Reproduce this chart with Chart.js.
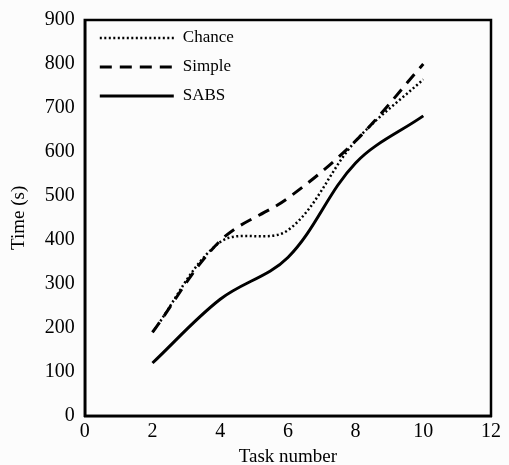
<!DOCTYPE html>
<html>
<head>
<meta charset="utf-8">
<script src="https://cdn.jsdelivr.net/npm/chart.js@4/dist/chart.umd.min.js"></script>
<style>
  body { margin: 0; background: #fcfcfc; }
  #wrap { width: 509px; height: 465px; }
</style>
</head>
<body>
<div id="wrap"><canvas id="myChart"></canvas></div>
<script>
// Task numbers on x axis
let tasks = [2, 4, 6, 8, 10]
// Time (s) per method
let chance = [190, 395, 422, 625, 765]
let simple = [190, 398, 495, 625, 800]
let sabs = [120, 265, 360, 575, 682]

let xTicks = [0, 2, 4, 6, 8, 10, 12]
let yTicks = [0, 100, 200, 300, 400, 500, 600, 700, 800, 900]

const serif = "'Liberation Serif', 'Times New Roman', serif"

function toPoints(vals) {
  return tasks.map((t, i) => ({x: t, y: vals[i]}))
}

// box round the plot + legend inside it
const framePlugin = {
  id: 'frame',
  afterDraw(chart) {
    const c = chart.ctx
    const a = chart.chartArea
    c.save()
    c.strokeStyle = '#000'
    c.lineWidth = 2.5
    c.strokeRect(a.left, a.top, a.right - a.left, a.bottom - a.top)

    // legend
    c.font = '17px ' + serif
    c.textBaseline = 'middle'
    c.fillStyle = '#000'
    chart.data.datasets.forEach((ds, i) => {
      let y = a.top + 18 + i * 29
      c.beginPath()
      c.setLineDash(ds.borderDash || [])
      c.lineWidth = ds.borderWidth
      c.strokeStyle = '#000'
      c.moveTo(a.left + 15, y)
      c.lineTo(a.left + 89, y)
      c.stroke()
      c.setLineDash([])
      c.fillText(ds.label, a.left + 98, y)
    })
    c.restore()
  }
}

const ctx = document.getElementById('myChart').getContext('2d')
const myChart = new Chart(ctx, {
  type: 'line',
  data: {
    datasets: [
      {
        label: 'Chance',
        data: toPoints(chance),
        borderColor: '#000',
        borderWidth: 2.5,
        borderDash: [2, 2.5],
        pointRadius: 0,
        tension: 0.35
      },
      {
        label: 'Simple',
        data: toPoints(simple),
        borderColor: '#000',
        borderWidth: 3,
        borderDash: [12, 8],
        pointRadius: 0,
        tension: 0.35
      },
      {
        label: 'SABS',
        data: toPoints(sabs),
        borderColor: '#000',
        borderWidth: 3,
        pointRadius: 0,
        tension: 0.35
      }
    ]
  },
  options: {
    responsive: true,
    maintainAspectRatio: false,
    animation: false,
    layout: { padding: { top: 0, right: 18, left: 8, bottom: 0 } },
    plugins: {
      legend: { display: false },
      tooltip: { enabled: false }
    },
    scales: {
      x: {
        type: 'linear',
        min: 0,
        max: 12,
        afterBuildTicks: (axis) => { axis.ticks = xTicks.map(v => ({value: v})) },
        grid: { display: false, drawTicks: false },
        border: { display: true, color: '#000', width: 2.5 },
        ticks: { color: '#000', font: { family: serif, size: 20, lineHeight: 1 }, padding: 6, maxRotation: 0 },
        title: { display: true, text: 'Task number', color: '#000', font: { family: serif, size: 19, lineHeight: 0.8 }, padding: { top: 2, bottom: 0 } }
      },
      y: {
        min: 0,
        max: 900,
        afterBuildTicks: (axis) => { axis.ticks = yTicks.map(v => ({value: v})) },
        grid: { display: false, drawTicks: false },
        border: { display: true, color: '#000', width: 2.5 },
        ticks: { color: '#000', font: { family: serif, size: 20, lineHeight: 1 }, padding: 10 },
        title: { display: true, text: 'Time (s)', color: '#000', font: { family: serif, size: 19 }, padding: { top: 0, bottom: 4 } }
      }
    }
  },
  plugins: [framePlugin]
})
</script>
</body>
</html>
